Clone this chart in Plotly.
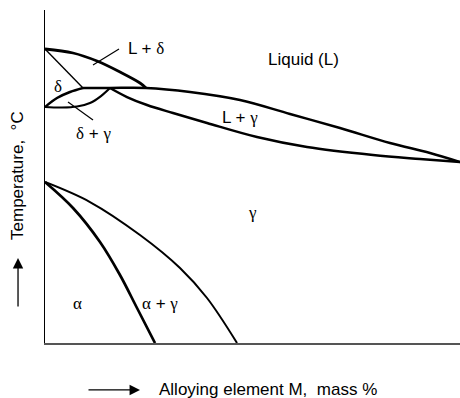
import plotly.graph_objects as go

# Phase boundaries (composition in arbitrary mass % units 0-100, temperature in relative units 0-100)
liq_delta_x = [0, 6.75, 12.53, 18.07, 22.89, 24.34]
liq_delta_t = [88.29, 87.09, 84.68, 81.38, 78.08, 76.58]

sol_delta_x = [0, 9.16]
sol_delta_t = [88.29, 76.58]

liq_gamma_x = [9.16, 15.66, 24.34, 34.94, 46.99, 59.04, 71.08, 83.13, 92.77, 100]
liq_gamma_t = [76.58, 76.58, 76.58, 75.38, 72.97, 68.77, 64.56, 60.06, 57.06, 54.35]

dg_upper_x = [0, 2.89, 6.02, 9.16]
dg_upper_t = [70.87, 73.57, 75.38, 76.58]

dg_lower_x = [0, 4.10, 7.71, 10.84, 13.49, 15.66]
dg_lower_t = [70.87, 70.72, 71.02, 72.07, 74.17, 76.58]

sol_gamma_x = [15.66, 19.76, 24.58, 30.84, 39.04, 51.08, 63.13, 79.04, 90.36, 100]
sol_gamma_t = [76.58, 73.87, 71.47, 69.07, 66.07, 61.86, 58.86, 56.46, 55.26, 54.35]

alpha_x = [0, 6.75, 13.25, 18.07, 22.17, 26.51]
alpha_t = [48.35, 40.54, 30.33, 20.42, 10.51, 0]

gamma_x = [0, 10.84, 22.89, 32.53, 39.04, 46.27]
gamma_t = [48.35, 42.34, 32.43, 22.52, 13.51, 0]

C1, C2 = 26.51, 46.27

G = "<span style='font-family:Liberation Serif'>%s</span>"
labels = [
    ("L + " + G % "δ", 19.5, 88.3, "left"),
    ("Liquid (L)", 62.2, 85.0, "center"),
    (G % "δ", 3.1, 76.9, "center"),
    (G % "δ" + " + " + G % "γ", 11.6, 62.8, "center"),
    ("L + " + G % "γ", 47.0, 67.6, "center"),
    (G % "γ", 49.9, 39.3, "center"),
    (G % "α", 7.95, 12.0, "center"),
    (G % "α" + " + " + G % "γ", 27.7, 12.0, "center"),
]
leaders = [((11.57, 83.48), (17.83, 88.29)), ((5.54, 72.37), (11.57, 66.97))]

FONT = dict(family="Liberation Sans, Arial, sans-serif", size=17, color="black")

fig = go.Figure()
def curve(x, y, w):
    fig.add_trace(go.Scatter(x=x, y=y, mode="lines",
                             line=dict(color="black", width=w, shape="spline", smoothing=1),
                             hoverinfo="skip", showlegend=False))

curve(liq_delta_x, liq_delta_t, 2.8)
curve(sol_delta_x, sol_delta_t, 1.4)
curve(liq_gamma_x, liq_gamma_t, 2.5)
curve(dg_upper_x, dg_upper_t, 2.5)
curve(dg_lower_x, dg_lower_t, 2.2)
curve(sol_gamma_x, sol_gamma_t, 2.5)
curve(alpha_x, alpha_t, 2.7)
curve(gamma_x, gamma_t, 2.0)

for (x0, y0), (x1, y1) in leaders:
    fig.add_shape(type="line", x0=x0, y0=y0, x1=x1, y1=y1, line=dict(color="black", width=1.2))

for txt, x, y, anc in labels:
    fig.add_annotation(text=txt, x=x, y=y, xanchor=anc, yanchor="middle", showarrow=False, font=FONT)

for name, cx in (("C<sub>1</sub>", C1), ("C<sub>2</sub>", C2)):
    fig.add_annotation(text=name, x=cx, y=-4.8, xanchor="center", yanchor="middle",
                       showarrow=False, font=FONT)

# axis titles with arrows
fig.add_annotation(text="Alloying element M,  mass %", xref="paper", yref="paper",
                   x=0.2699, y=-0.141, xanchor="left", yanchor="middle", showarrow=False, font=FONT)
fig.add_annotation(text="", xref="paper", yref="paper", x=0.2289, y=-0.141,
                   ax=-53, ay=0, showarrow=True, arrowhead=2, arrowsize=1.6, arrowwidth=1.3,
                   arrowcolor="black")
fig.add_annotation(text="Temperature,  °C", xref="paper", yref="paper",
                   x=-0.0675, y=0.5045, textangle=-90, xanchor="center", yanchor="middle",
                   showarrow=False, font=FONT)
fig.add_annotation(text="", xref="paper", yref="paper", x=-0.065, y=0.2553,
                   ax=0, ay=50, showarrow=True, arrowhead=2, arrowsize=1.6, arrowwidth=1.3,
                   arrowcolor="black")

fig.update_xaxes(range=[0, 100], showline=True, linecolor="#555555", linewidth=1.5,
                 showgrid=False, zeroline=False, showticklabels=False, ticks="")
fig.update_yaxes(range=[0, 100], showline=True, linecolor="black", linewidth=1.2,
                 showgrid=False, zeroline=False, showticklabels=False, ticks="")
fig.update_layout(width=460, height=398, autosize=False,
                  margin=dict(l=45, r=0, t=10, b=55),
                  paper_bgcolor="white", plot_bgcolor="white", font=FONT)

fig.write_html("out.html", config={"displayModeBar": False},
               post_script="document.body.style.margin='0';document.body.style.overflow='hidden';")
